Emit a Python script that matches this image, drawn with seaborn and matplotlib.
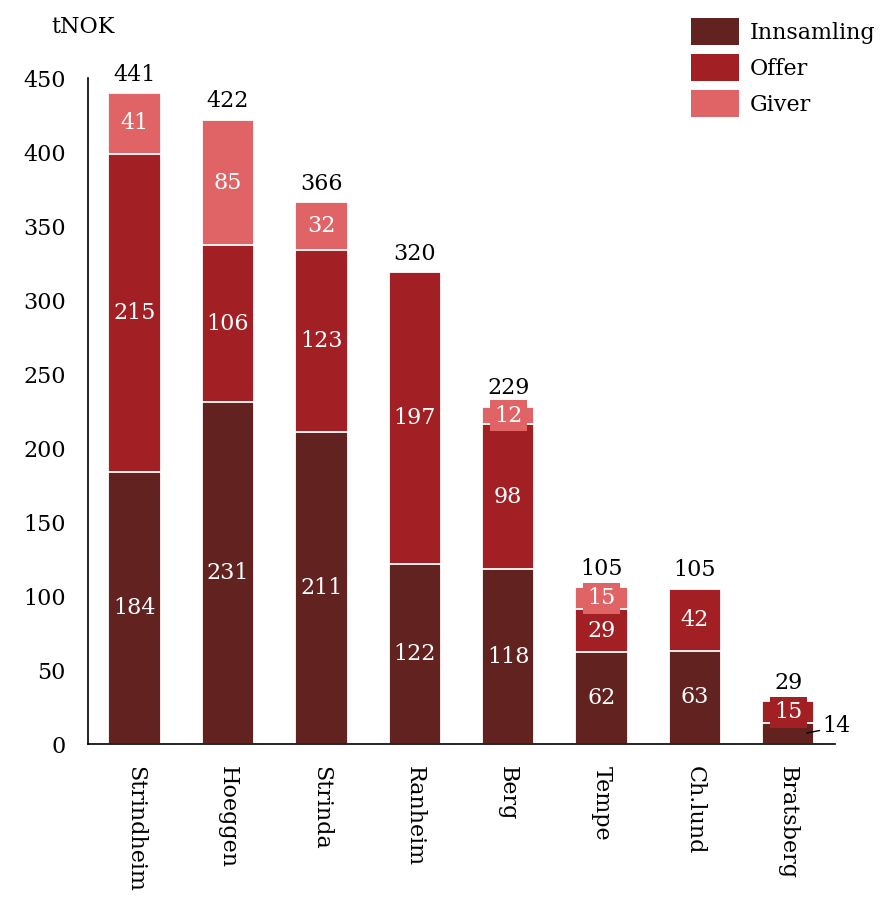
import numpy as np
import pandas as pd
import matplotlib
matplotlib.use('Agg')
import matplotlib.pyplot as plt
import seaborn as sns
from matplotlib.patches import Patch

sns.set_style('white')
plt.rcParams['font.family'] = ['DejaVu Serif']
plt.rcParams['text.color'] = 'black'
plt.rcParams['xtick.color'] = 'black'
plt.rcParams['ytick.color'] = 'black'

# Data
kategorier = ['Strindheim', 'Hoeggen', 'Strinda', 'Ranheim', 'Berg', 'Tempe', 'Ch.lund', 'Bratsberg']
innsamling = [184, 231, 211, 122, 118, 62, 63, 14]
offer = [215, 106, 123, 197, 98, 29, 42, 15]
giver = [41, 85, 32, 0, 12, 15, 0, 0]
totaler = [441, 422, 366, 320, 229, 105, 105, 29]

serier = ['Innsamling', 'Offer', 'Giver']
farger = ['#612220', '#a21f23', '#e06466']

df = pd.DataFrame({'kategori': kategorier, 'Innsamling': innsamling,
                   'Offer': offer, 'Giver': giver})
df['cum1'] = df['Innsamling']
df['cum2'] = df['cum1'] + df['Offer']
df['cum3'] = df['cum2'] + df['Giver']

fig = plt.figure(figsize=(8.84, 8.99), dpi=100)
ax = fig.add_axes([0.0995, 0.1724, 0.845, 0.7406])

bw = 0.56
# stacked bars via layered cumulative barplots (tallest first)
for col, c in zip(['cum3', 'cum2', 'cum1'], farger[::-1]):
    sns.barplot(data=df, x='kategori', y=col, color=c, width=bw,
                edgecolor='white', linewidth=1.3, saturation=1, ax=ax)

fs = 16
# segment labels
for i in range(len(kategorier)):
    bunn = 0
    for s, vals, c in zip(serier, [innsamling, offer, giver], farger):
        v = vals[i]
        if v > 0 and not (kategorier[i] == 'Bratsberg' and s == 'Innsamling'):
            kw = {}
            if v < 20:
                kw['bbox'] = dict(boxstyle='square,pad=0.2', fc=c, ec='none')
            ax.text(i, bunn + v / 2, str(v), ha='center', va='center',
                    color='white', fontsize=fs, **kw)
        bunn += v
    ax.text(i, df['cum3'][i] + 5, str(totaler[i]), ha='center', va='bottom',
            color='black', fontsize=fs)

# Bratsberg Innsamling label outside the bar
ax.annotate(str(innsamling[7]), xy=(7.2, 7.5), xytext=(7.37, 12.5),
            ha='left', va='center', fontsize=fs,
            arrowprops=dict(arrowstyle='-', color='black', lw=1,
                            shrinkA=0, shrinkB=0, relpos=(0, 0.3)))

ax.set_xlim(-0.5, 7.5)
ax.set_ylim(0, 450)
ax.set_yticks(np.arange(0, 451, 50))
ax.set_xticks(range(len(kategorier)))
ax.set_xticklabels(kategorier, rotation=270, fontsize=fs)
ax.set_xticks(np.arange(-0.5, 8, 1), minor=True)
ax.tick_params(axis='x', which='major', length=0, pad=16)
ax.tick_params(axis='x', which='minor', direction='out', length=8, width=1.2, color='black')
ax.tick_params(axis='y', direction='out', length=8, width=1.2, color='black',
               labelsize=fs, pad=8)
ax.set_xlabel('')
ax.set_ylabel('')
for sp in ['top', 'right']:
    ax.spines[sp].set_visible(False)
for sp in ['left', 'bottom']:
    ax.spines[sp].set_color('black')
    ax.spines[sp].set_linewidth(1.2)

fig.text(0.058, 0.97, 'tNOK', fontsize=fs, ha='left', va='center')

handles = [Patch(facecolor=c, edgecolor='none', label=s) for s, c in zip(serier, farger)]
fig.legend(handles=handles, loc='upper right', bbox_to_anchor=(1.005, 0.995),
           frameon=False, fontsize=fs, handlelength=2.2, handleheight=1.5,
           handletextpad=0.45, labelspacing=0.4, borderaxespad=0.2)

fig.savefig('out.png', dpi=100)
